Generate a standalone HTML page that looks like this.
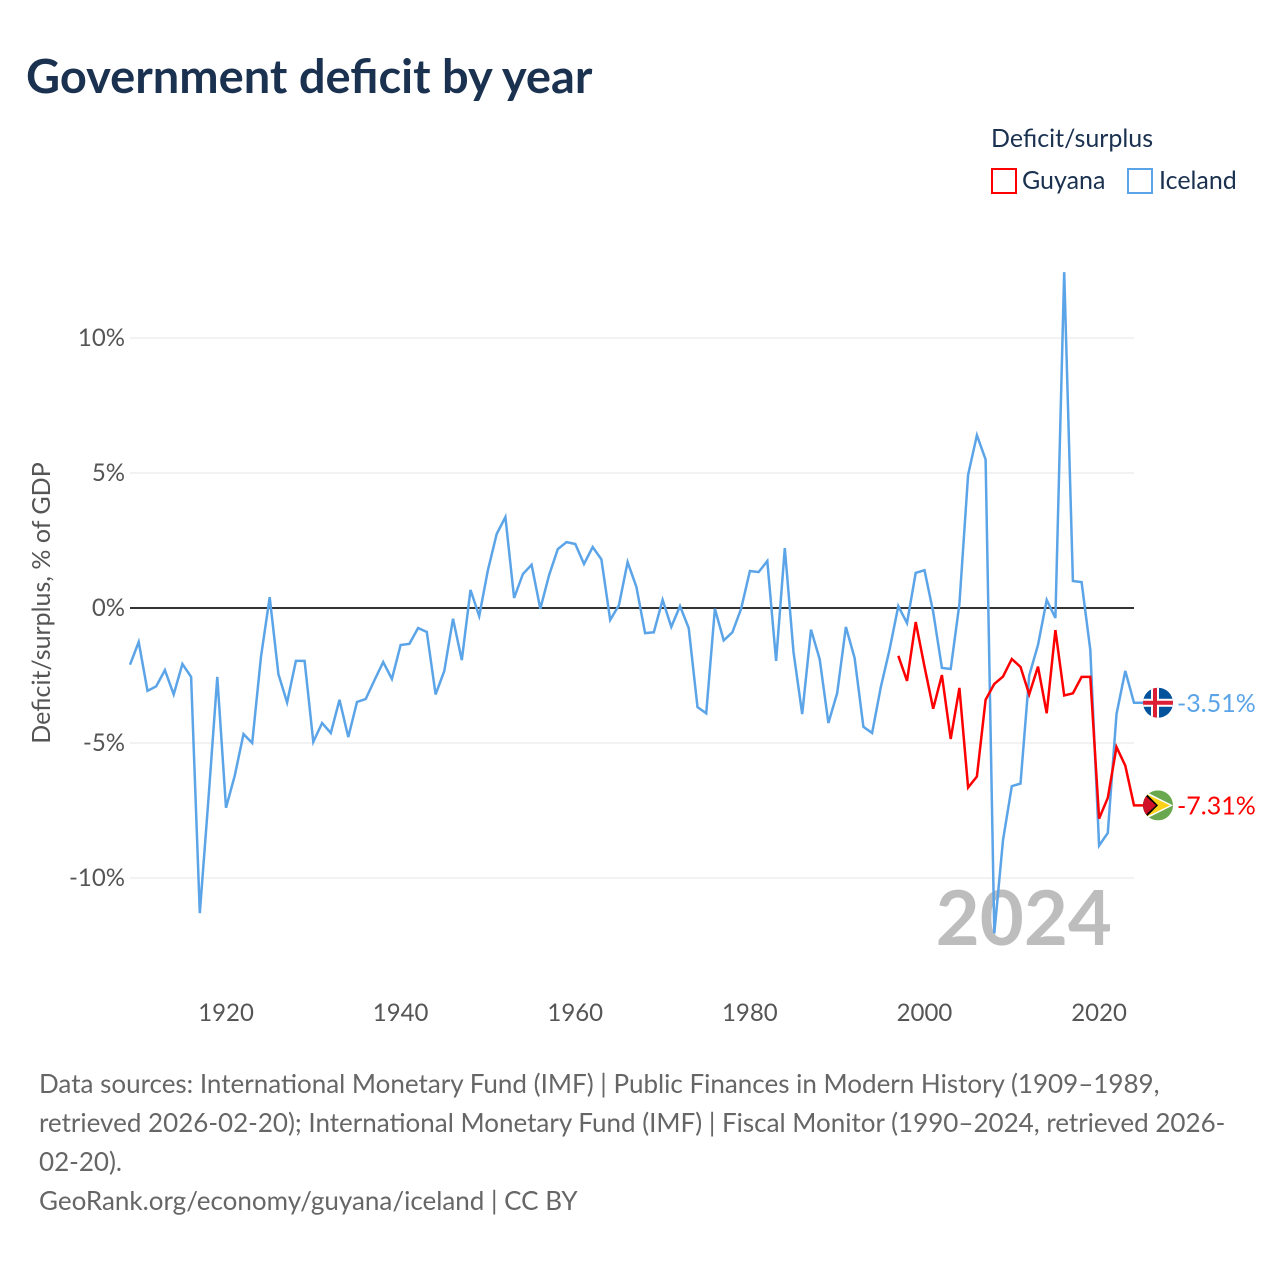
<!DOCTYPE html>
<html><head><meta charset="utf-8">
<style>
html,body{margin:0;padding:0;background:#fff;}
body{width:1280px;height:1280px;overflow:hidden;font-family:"Liberation Sans",sans-serif;}
</style></head>
<body>
<svg id="chart" width="1280" height="1280" xmlns="http://www.w3.org/2000/svg" font-family="Lato, 'Liberation Sans', sans-serif">
<text x="26" y="93" font-size="47" font-weight="bold" fill="#1a3150">Government deficit by year</text>
<g>
<text x="991" y="147" font-size="25" fill="#1a3150">Deficit/surplus</text>
<rect x="992" y="169" width="24" height="24" fill="none" stroke="#ff0000" stroke-width="2"/>
<text x="1022" y="189" font-size="25" fill="#1a3150">Guyana</text>
<rect x="1128" y="169" width="24" height="24" fill="none" stroke="#5ba4e8" stroke-width="2"/>
<text x="1159" y="189" font-size="25" fill="#1a3150">Iceland</text>
</g>
<text transform="translate(50,603) rotate(-90)" text-anchor="middle" font-size="25" fill="#555">Deficit/surplus, % of GDP</text>
<g id="grid"></g>
<text x="1112" y="945" text-anchor="end" font-size="76" font-weight="bold" fill="#bdbdbd">2024</text>
<g id="series"></g>
<g id="endlabels"></g>
<g font-size="26" fill="#666">
<text x="39" y="1093">Data sources: International Monetary Fund (IMF) | Public Finances in Modern History (1909–1989,</text>
<text x="39" y="1132">retrieved 2026-02-20); International Monetary Fund (IMF) | Fiscal Monitor (1990–2024, retrieved 2026-</text>
<text x="39" y="1171">02-20).</text>
<text x="39" y="1210">GeoRank.org/economy/guyana/iceland | CC BY</text>
</g>
</svg>
<script>
const yTicks=[10,5,0,-5,-10];
const yTickLabels=["10%","5%","0%","-5%","-10%"];
const xTicks=[1920,1940,1960,1980,2000,2020];
const icelandStart=1909;
const icelandValues=[-2.1,-1.26,-3.07,-2.9,-2.3,-3.2,-2.07,-2.55,-11.3,-7.0,-2.55,-7.4,-6.2,-4.67,-5.0,-1.8,0.4,-2.45,-3.5,-1.96,-1.96,-4.96,-4.26,-4.63,-3.4,-4.78,-3.48,-3.37,-2.67,-2.0,-2.63,-1.37,-1.33,-0.74,-0.89,-3.2,-2.33,-0.4,-1.93,0.67,-0.3,1.4,2.74,3.37,0.37,1.26,1.6,-0.03,1.22,2.18,2.44,2.37,1.63,2.26,1.8,-0.44,0.1,1.7,0.78,-0.93,-0.9,0.3,-0.7,0.07,-0.74,-3.67,-3.9,-0.03,-1.2,-0.9,-0.03,1.37,1.33,1.74,-1.96,2.22,-1.63,-3.93,-0.8,-1.9,-4.26,-3.15,-0.7,-1.85,-4.4,-4.63,-2.93,-1.55,0.07,-0.56,1.3,1.4,-0.15,-2.22,-2.26,0.15,4.93,6.4,5.5,-12.05,-8.6,-6.6,-6.5,-2.5,-1.37,0.3,-0.37,12.44,1.0,0.96,-1.55,-8.8,-8.33,-3.93,-2.33,-3.51];
const guyanaStart=1997;
const guyanaValues=[-1.77,-2.7,-0.52,-2.17,-3.73,-2.48,-4.85,-2.96,-6.65,-6.24,-3.4,-2.81,-2.54,-1.89,-2.18,-3.2,-2.17,-3.9,-0.82,-3.24,-3.16,-2.55,-2.55,-7.8,-7.03,-5.15,-5.84,-7.31];
const NS="http://www.w3.org/2000/svg";
const X0=130,X1=1134,Y0=608,PPU=27;
const xs=yr=>X0+(yr-1909)*(X1-X0)/(2024-1909);
const ys=v=>Y0-v*PPU;
function mk(tag,attrs,parent){const e=document.createElementNS(NS,tag);for(const k in attrs)e.setAttribute(k,attrs[k]);parent.appendChild(e);return e;}
const grid=document.getElementById('grid');
yTicks.forEach((t,i)=>{
 if(t!==0){const l=mk('line',{x1:X0,x2:X1,y1:ys(t),y2:ys(t),stroke:'#e6e6e6','stroke-width':1},grid);
 
 }
 const tx=mk('text',{x:125,y:ys(t)+8,'text-anchor':'end','font-size':24,fill:'#555'},grid);
 tx.textContent=yTickLabels[i];
 
 
});
xTicks.forEach(t=>{
 const tx=mk('text',{x:xs(t),y:1021,'text-anchor':'middle','font-size':24,fill:'#555'},grid);
 tx.textContent=t;
 
 
});
const zl=mk('line',{x1:X0,x2:X1,y1:ys(0),y2:ys(0),stroke:'#333','stroke-width':2},grid);


const ser=document.getElementById('series');
function line(start,vals,color,name){
 let pts=vals.map((v,i)=>xs(start+i).toFixed(1)+','+ys(v).toFixed(1)).join(' ');
 pts+=' 1143,'+ys(vals[vals.length-1]).toFixed(1);
 const p=mk('polyline',{points:pts,fill:'none',stroke:color,'stroke-width':2.5,'stroke-linejoin':'miter'},ser);
 
 
}
line(icelandStart,icelandValues,'#5ba4e8','iceland-line');
line(guyanaStart,guyanaValues,'#ff0000','guyana-line');
const el=document.getElementById('endlabels');
const iv=icelandValues[icelandValues.length-1],gv=guyanaValues[guyanaValues.length-1];
const cx=1158;
let gI=mk('g',{},el);


const iy=ys(iv);
mk('defs',{},gI).innerHTML='<clipPath id="cI"><circle cx="'+cx+'" cy="'+iy+'" r="15"/></clipPath><clipPath id="cG"><circle cx="'+cx+'" cy="'+ys(gv)+'" r="15"/></clipPath>';
let gic=mk('g',{'clip-path':'url(#cI)'},gI);
mk('rect',{x:cx-15,y:iy-15,width:30,height:30,fill:'#02529c'},gic);
mk('rect',{x:cx-7,y:iy-15,width:8,height:30,fill:'#fff'},gic);
mk('rect',{x:cx-15,y:iy-4,width:30,height:8,fill:'#fff'},gic);
mk('rect',{x:cx-5,y:iy-15,width:4,height:30,fill:'#dc1e35'},gic);
mk('rect',{x:cx-15,y:iy-2,width:30,height:4,fill:'#dc1e35'},gic);
const ti=mk('text',{x:1177,y:iy+9,'font-size':25,fill:'#5ba4e8'},el);
ti.textContent=iv.toFixed(2)+'%';


const gy=ys(gv);
let gG=mk('g',{'clip-path':'url(#cG)'},el);


mk('rect',{x:cx-15,y:gy-15,width:30,height:30,fill:'#6aa84f'},gG);
mk('polygon',{points:(cx-15)+','+(gy-15)+' '+(cx+15)+','+gy+' '+(cx-15)+','+(gy+15),fill:'#fff'},gG);
mk('polygon',{points:(cx-15)+','+(gy-13)+' '+(cx+12)+','+gy+' '+(cx-15)+','+(gy+13),fill:'#fcd116'},gG);
mk('polygon',{points:(cx-15)+','+(gy-15)+' '+(cx)+','+gy+' '+(cx-15)+','+(gy+15),fill:'#000'},gG);
mk('polygon',{points:(cx-15)+','+(gy-12)+' '+(cx-2)+','+gy+' '+(cx-15)+','+(gy+12),fill:'#ce1126'},gG);
const tg=mk('text',{x:1177,y:gy+9,'font-size':25,fill:'#ff0000'},el);
tg.textContent=gv.toFixed(2)+'%';


</script>
</body></html>
